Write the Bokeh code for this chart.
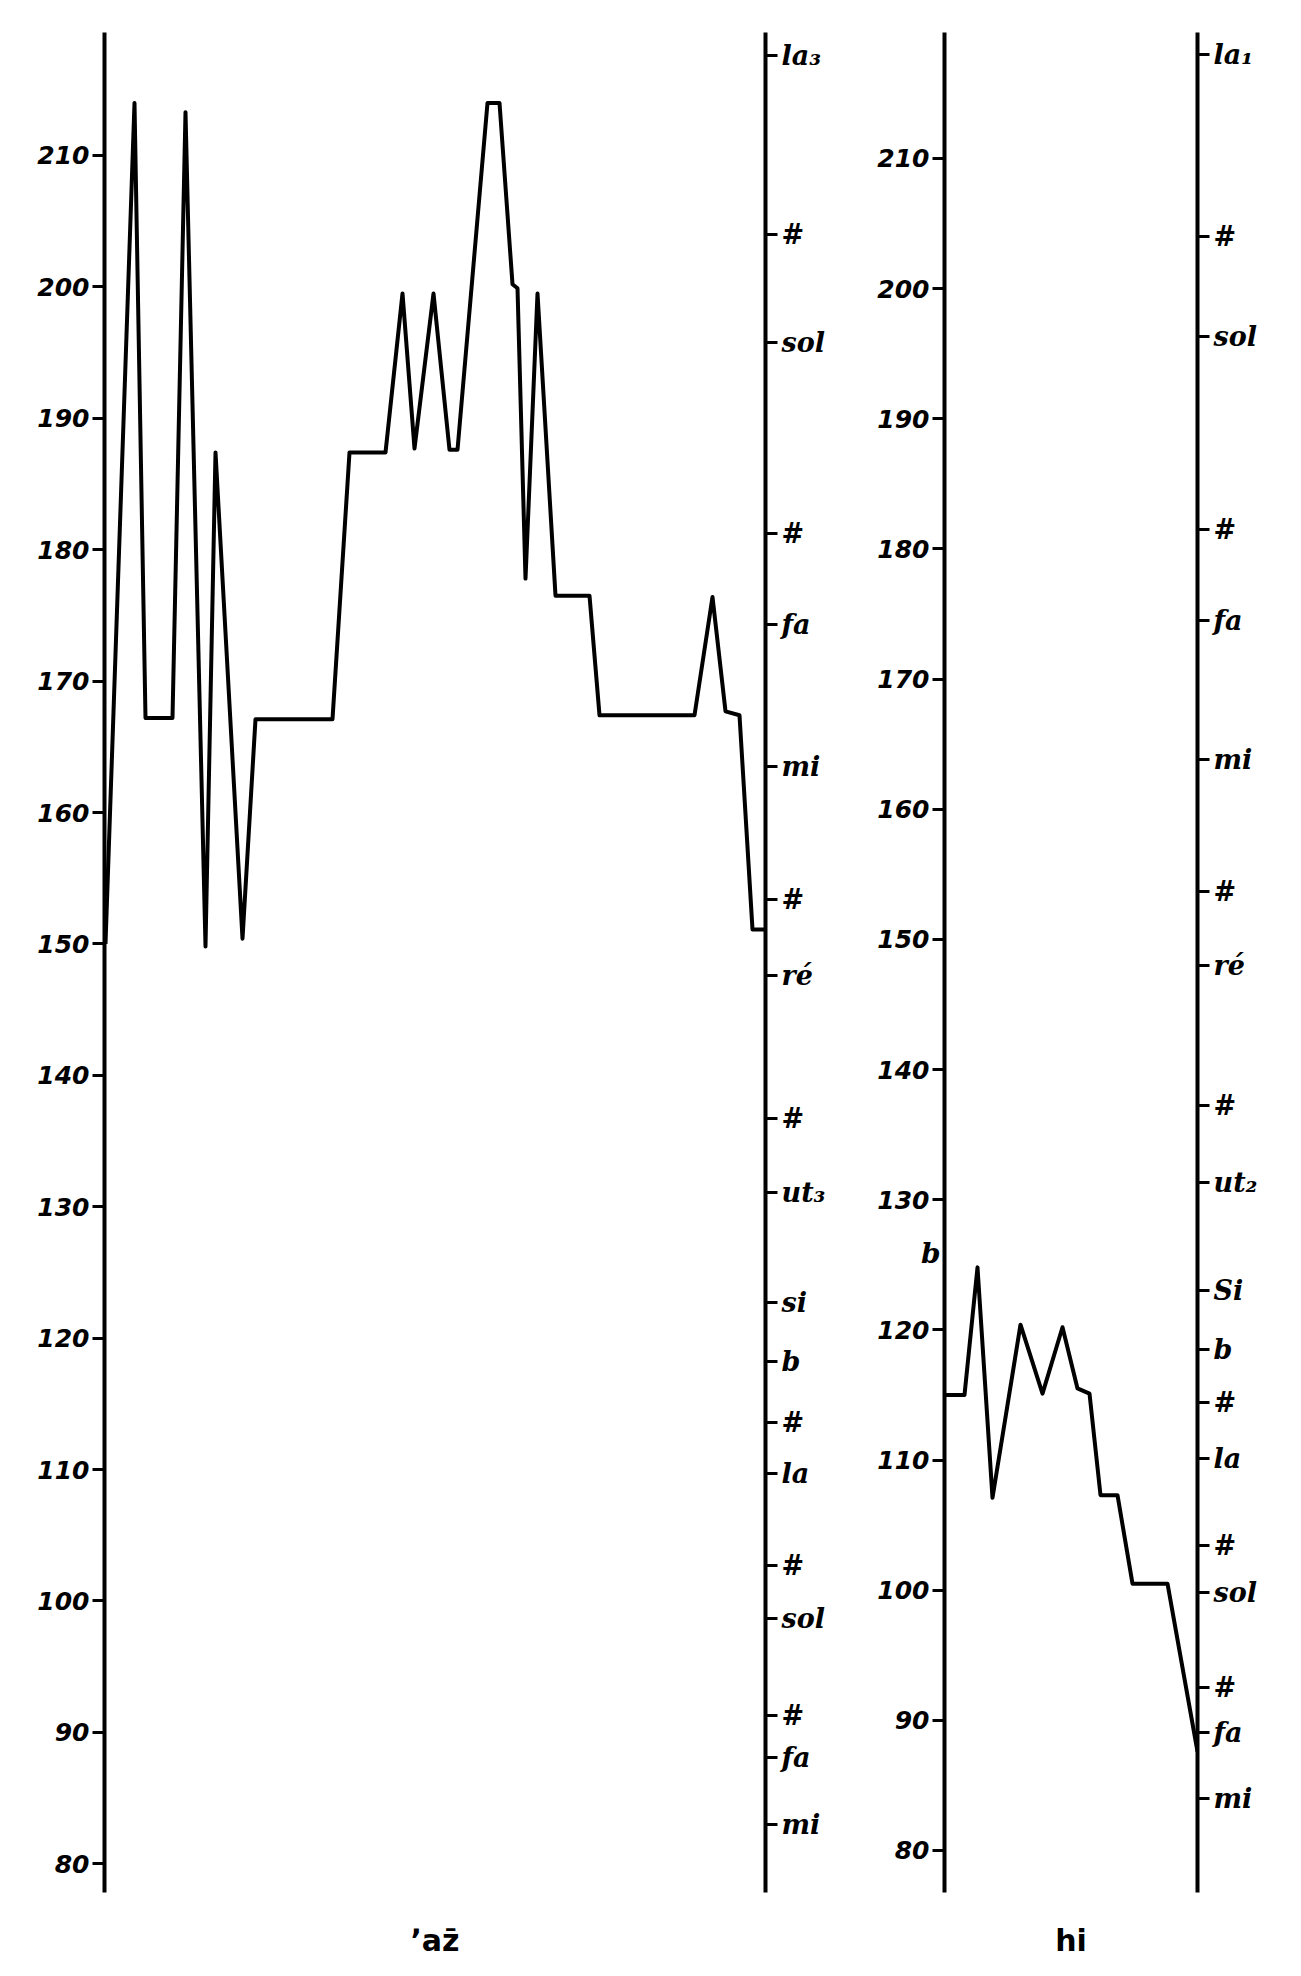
from bokeh.plotting import figure
from bokeh.models import Range1d, LinearAxis, FixedTicker
from bokeh.layouts import row
from bokeh.embed import file_html
from bokeh.resources import INLINE

# ---- data ----
hz_ticks = [80, 90, 100, 110, 120, 130, 140, 150, 160, 170, 180, 190, 200, 210]

# left contour ("ʼaz̄"): time (arbitrary units) and pitch (Hz)
left_t = [1, 30, 41, 68, 81, 101, 111, 138, 151, 228, 245, 281, 298, 310, 329, 345, 353,
          383, 395, 408, 413, 421, 433, 451, 485, 495, 590, 608, 621, 635, 648, 660]
left_hz = [150, 214, 167.2, 167.2, 213.3, 149.8, 187.4, 150.4, 167.1, 167.1, 187.4, 187.4,
           199.5, 187.7, 199.5, 187.6, 187.6, 214, 214, 200.2, 199.9, 177.8, 199.5, 176.5,
           176.5, 167.4, 167.4, 176.4, 167.7, 167.4, 151.1, 151.1]

# right contour ("hi")
right_t = [0, 20, 33, 48, 76, 98, 118, 133, 145, 156, 173, 188, 223, 253]
right_hz = [115.0, 115.0, 124.8, 107.1, 120.4, 115.1, 120.2, 115.5, 115.1, 107.3, 107.3,
            100.5, 100.5, 87.6]

# musical note scales drawn beside each contour
left_note_pos = [217.6, 204.0, 195.8, 181.2, 174.3, 163.5, 153.4, 147.6, 136.7, 131.1,
                 122.7, 118.2, 113.6, 109.7, 102.7, 98.7, 91.3, 88.1, 83.0]
left_note_names = ["la₃", "#", "sol", "#", "fa", "mi", "#", "ré", "#", "ut₃",
                   "si", "b", "#", "la", "#", "sol", "#", "fa", "mi"]
right_note_pos = [218.0, 204.0, 196.3, 181.5, 174.5, 163.8, 153.7, 148.0, 137.2, 131.3,
                  123.0, 118.5, 114.4, 110.1, 103.4, 99.8, 92.5, 89.1, 84.0]
right_note_names = ["la₁", "#", "sol", "#", "fa", "mi", "#", "ré", "#", "ut₂",
                    "Si", "b", "#", "la", "#", "sol", "#", "fa", "mi"]

# stray flat sign written under "130" of the second frequency scale
stray_pos = [125.9]
stray_text = ["b"]

words = ["ʼaz̄", "hi"]

NUM_FONT = "DejaVu Sans"
NOTE_FONT = "DejaVu Serif"


def make_panel(t, hz, t_max, y_lo, y_hi, note_pos, note_names, word, frame_w, bl, br):
    p = figure(frame_width=frame_w, frame_height=1860,
               x_range=Range1d(0, t_max), y_range=Range1d(y_lo, y_hi),
               output_backend="svg", toolbar_location=None,
               min_border_left=bl, min_border_right=br,
               min_border_top=32, min_border_bottom=60)
    p.grid.visible = False
    p.outline_line_color = None
    p.background_fill_color = "white"
    p.border_fill_color = "white"

    # frequency axis (left)
    ya = p.yaxis[0]
    ya.ticker = FixedTicker(ticks=hz_ticks)
    ya.axis_line_width = 4
    ya.axis_line_color = "black"
    ya.major_tick_line_width = 3
    ya.major_tick_out = 12
    ya.major_tick_in = 0
    ya.minor_tick_line_color = None
    ya.major_label_standoff = 3
    ya.major_label_text_font = NUM_FONT
    ya.major_label_text_font_style = "bold italic"
    ya.major_label_text_font_size = "25px"
    ya.major_label_text_color = "black"

    # note axis (right)
    na = LinearAxis(ticker=FixedTicker(ticks=note_pos),
                    major_label_overrides={float(k): v for k, v in zip(note_pos, note_names)})
    na.axis_line_width = 4
    na.axis_line_color = "black"
    na.major_tick_line_width = 3
    na.major_tick_out = 12
    na.major_tick_in = 0
    na.minor_tick_line_color = None
    na.major_label_standoff = 4
    na.major_label_text_font = NOTE_FONT
    na.major_label_text_font_style = "bold italic"
    na.major_label_text_font_size = "27px"
    na.major_label_text_color = "black"
    p.add_layout(na, "right")

    # bottom: only the word under the contour
    xa = p.xaxis[0]
    xa.ticker = FixedTicker(ticks=[])
    xa.axis_line_color = None
    xa.major_tick_line_color = None
    xa.minor_tick_line_color = None
    xa.major_tick_out = 0
    xa.major_label_standoff = 0
    xa.axis_label = word
    xa.axis_label_standoff = 30
    xa.axis_label_text_font = NUM_FONT
    xa.axis_label_text_font_style = "bold"
    xa.axis_label_text_font_size = "30px"
    xa.axis_label_text_color = "black"

    p.line(t, hz, line_width=4, line_color="black", line_join="round")
    return p


p1 = make_panel(left_t, left_hz, 661, 77.81, 219.36, left_note_pos, left_note_names,
                words[0], 661, 104, 90)
p2 = make_panel(right_t, right_hz, 253, 76.77, 219.68, right_note_pos, right_note_names,
                words[1], 253, 89, 88)

# the stray "b": an extra, line-less axis stacked left of the frequency scale
sa = LinearAxis(ticker=FixedTicker(ticks=stray_pos),
                major_label_overrides={float(k): v for k, v in zip(stray_pos, stray_text)})
sa.axis_line_color = None
sa.major_tick_line_color = None
sa.minor_tick_line_color = None
sa.major_tick_out = 0
sa.major_tick_in = 0
sa.major_label_standoff = -66
sa.major_label_text_font = NOTE_FONT
sa.major_label_text_font_style = "bold italic"
sa.major_label_text_font_size = "28px"
sa.major_label_text_color = "black"
p2.add_layout(sa, "left")

layout = row(p1, p2, spacing=0)
open("out.html", "w").write(file_html(layout, INLINE))
